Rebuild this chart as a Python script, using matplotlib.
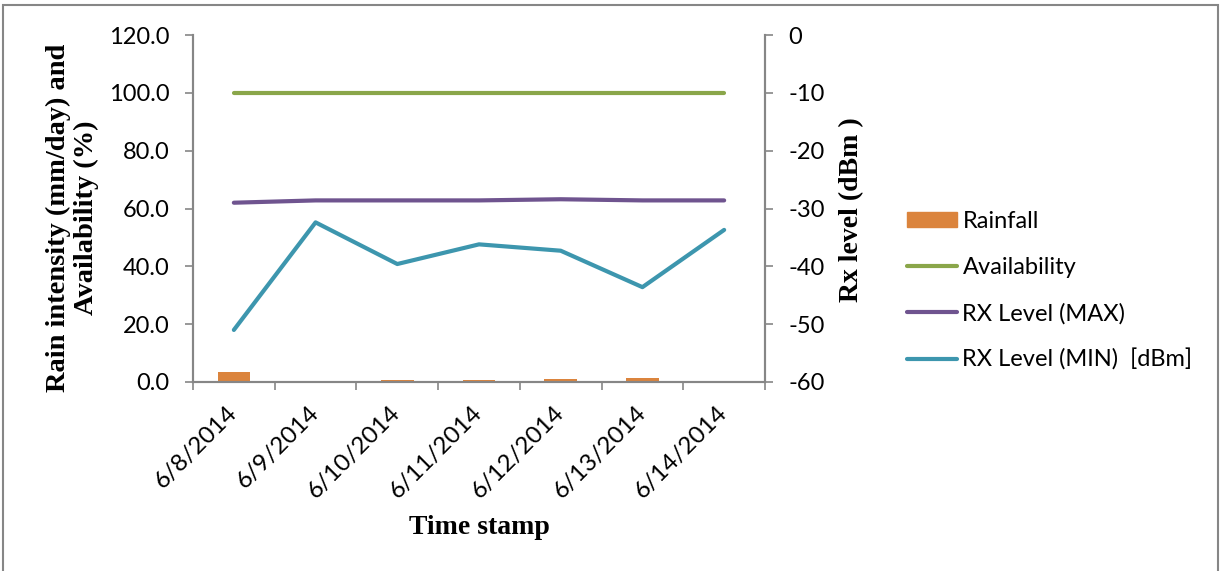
import matplotlib
matplotlib.use('Agg')
import matplotlib.pyplot as plt
import numpy as np
from matplotlib.patches import Rectangle
from matplotlib.lines import Line2D

# data
dates = ['6/8/2014', '6/9/2014', '6/10/2014', '6/11/2014',
         '6/12/2014', '6/13/2014', '6/14/2014']
rainfall = [3.5, 0.0, 0.7, 0.6, 1.0, 1.3, 0.0]
availability = [100, 100, 100, 100, 100, 100, 100]
rx_max = [-29.0, -28.6, -28.6, -28.6, -28.4, -28.6, -28.6]
rx_min = [-51.0, -32.4, -39.6, -36.2, -37.3, -43.6, -33.7]

c_rain = '#DB843D'
c_avail = '#8AA64A'
c_max = '#6F548F'
c_min = '#3D96AE'
c_axis = '#868686'

sans = 'Lato'
serif = 'Liberation Serif'
plt.rcParams['axes.unicode_minus'] = False

W, H = 1221, 571
fig = plt.figure(figsize=(W / 100, H / 100), dpi=100)
# plot area: x 193..765, y 35..382 px
ax = fig.add_axes([193 / W, 1 - 382 / H, 572 / W, 347 / H])
ax2 = ax.twinx()

x = np.arange(len(dates)) + 0.5
ax.bar(x, rainfall, width=0.4, color=c_rain, zorder=2)
ax.plot(x, availability, color=c_avail, lw=3, solid_capstyle='round', zorder=3)
ax2.plot(x, rx_max, color=c_max, lw=3, solid_capstyle='round')
ax2.plot(x, rx_min, color=c_min, lw=3, solid_capstyle='round')

ax.set_xlim(0, len(dates))
ax.set_ylim(0, 120)
ax2.set_ylim(-60, 0)

ax.set_yticks(np.arange(0, 121, 20))
ax.set_yticklabels(['%.1f' % v for v in np.arange(0, 121, 20)])
ax2.set_yticks(np.arange(-60, 1, 10))

ax.set_xticks(np.arange(len(dates) + 1))
ax.set_xticklabels([])
ax.set_xticks(x, minor=True)
ax.set_xticklabels(dates, minor=True, rotation=45, ha='right', va='center',
                   rotation_mode='anchor', fontsize=17.5, family=sans)
ax.tick_params(axis='x', which='minor', length=0, pad=20)
ax.tick_params(axis='x', which='major', length=6, color=c_axis, width=1.2)

for a in (ax, ax2):
    a.spines['top'].set_visible(False)
    for s in ('left', 'right', 'bottom'):
        a.spines[s].set_color(c_axis)
        a.spines[s].set_linewidth(1.5)
    a.tick_params(axis='y', length=6, color=c_axis, width=1.2, labelsize=17,
                  pad=11)
    for t in a.get_yticklabels():
        t.set_family(sans)

# axis titles placed in pixel positions
fig.text(72 / W, 1 - 218 / H, 'Rain intensity (mm/day) and\nAvailability (%)',
         rotation=90, ha='center', va='center', fontsize=20.5, family=serif,
         fontweight='bold', linespacing=1.15)
fig.text(852 / W, 1 - 210 / H, 'Rx level (dBm )', rotation=90, ha='center',
         va='center', fontsize=20, family=serif, fontweight='bold')
fig.text(479 / W, 1 - 527 / H, 'Time stamp', ha='center', va='center',
         fontsize=20, family=serif, fontweight='bold')

handles = [
    Rectangle((0, 0), 1, 1, color=c_rain),
    Line2D([], [], color=c_avail, lw=3, solid_capstyle='round'),
    Line2D([], [], color=c_max, lw=3, solid_capstyle='round'),
    Line2D([], [], color=c_min, lw=3, solid_capstyle='round'),
]
labels = ['Rainfall', 'Availability', 'RX Level (MAX)', 'RX Level (MIN)  [dBm]']
fig.legend(handles, labels, loc='upper left', bbox_to_anchor=(907 / W, 1 - 211 / H),
           frameon=False, prop={'family': sans, 'size': 17},
           handlelength=2.1, handleheight=0.6, handletextpad=0.25,
           labelspacing=1.05, borderaxespad=0, borderpad=0)

# outer chart border
fig.patches.append(Rectangle((3 / W, -0.02), 1215 / W, 1.02 - 5 / H,
                             transform=fig.transFigure, fill=False,
                             edgecolor=c_axis, lw=1.5))

plt.savefig('out.png', dpi=100)
